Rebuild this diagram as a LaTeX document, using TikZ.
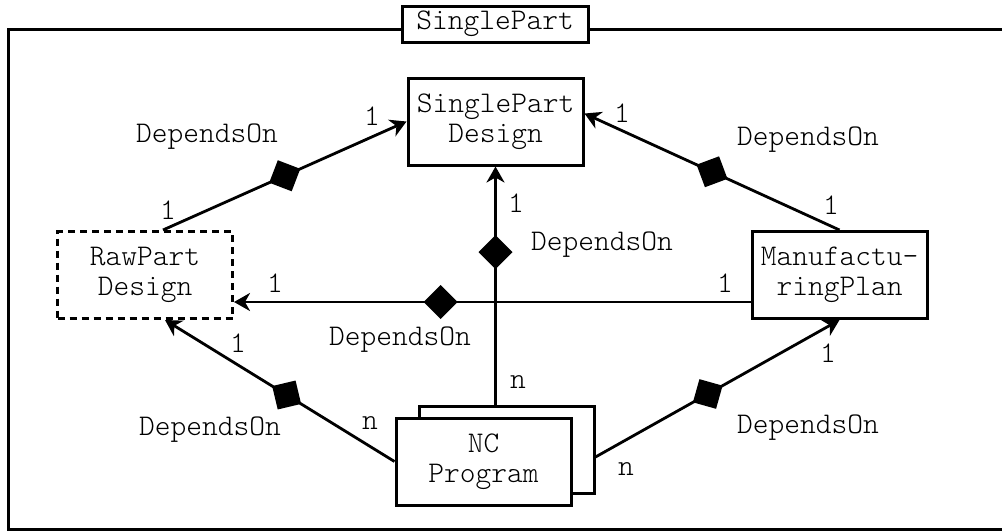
\documentclass[tikz,border=0pt]{standalone}
\usepackage{fontspec}
\setmonofont{Latin Modern Mono Light}
\usetikzlibrary{arrows.meta,decorations.markings}

\begin{document}
\begin{tikzpicture}[x=0.5pt, y=-0.5pt,
  >={Stealth[length=8pt,width=9pt,inset=2.5pt]},
  every node/.style={font=\ttfamily\fontsize{15}{15}\selectfont},
  box/.style={draw, line width=1.5pt, fill=white, align=center,
    minimum width=87.5pt, minimum height=43.5pt, inner sep=0pt},
  conn/.style={line width=1.4pt},
  dep/.style={conn, postaction={decorate}, decoration={markings,
    mark=at position #1 with {\fill (-17,0) -- (0,17) -- (17,0) -- (0,-17) -- cycle;}}}]
\useasboundingbox (0,0) rectangle (1002,531);
% outer frame
\draw[line width=1.5pt] (8,29) rectangle (1030,529);
\node[box, minimum width=93pt, minimum height=18pt] (title) at (495,24) {SinglePart};

% parts
\node[box] (design) at (495.5,121.5) {SinglePart\\Design};
\node[box, dash pattern=on 3.5pt off 2.5pt] (raw) at (145,275) {RawPart\\Design};
\node[box] (plan) at (839.5,275) {Manufactu-\\ringPlan};
\node[box] (ncback) at (506.5,449.5) {};
\node[box] (nc) at (483.5,461.5) {NC\\Program};
\coordinate (hstart) at ([yshift=-13.5pt]plan.west);

% dependencies
\draw[dep=0.5, ->] ([xshift=9pt]raw.north) -- (design.west);
\draw[dep=0.5, ->] (plan.north) -- ([yshift=4pt]design.east);
\draw[dep=0.64, ->] (design.south |- ncback.north) -- (design.south);
\draw[dep=0.6, ->] (hstart) -- (raw.east |- hstart);
\draw[dep=0.47, ->] (nc.west) -- ([xshift=10pt]raw.south);
\draw[dep=0.46, ->] ([yshift=-3.75pt]ncback.east) -- (plan.south);

% labels
\node (d1) at (207,137) {DependsOn};
\node (m1a) at (372,116) {1};
\node (m1b) at (168,210) {1};
\node (d2) at (808,140) {DependsOn};
\node (m2a) at (622,113) {1};
\node (m2b) at (831,205) {1};
\node (d3) at (602,245) {DependsOn};
\node (m3a) at (516,203) {1};
\node (m3b) at (518,382) {n};
\node (d4) at (400,340) {DependsOn};
\node (m4a) at (275,283) {1};
\node (m4b) at (725,283) {1};
\node (d5) at (210,430) {DependsOn};
\node (m5a) at (238,343) {1};
\node (m5b) at (370,423) {n};
\node (d6) at (808,428) {DependsOn};
\node (m6a) at (828,353) {1};
\node (m6b) at (626,469) {n};
\end{tikzpicture}
\end{document}
